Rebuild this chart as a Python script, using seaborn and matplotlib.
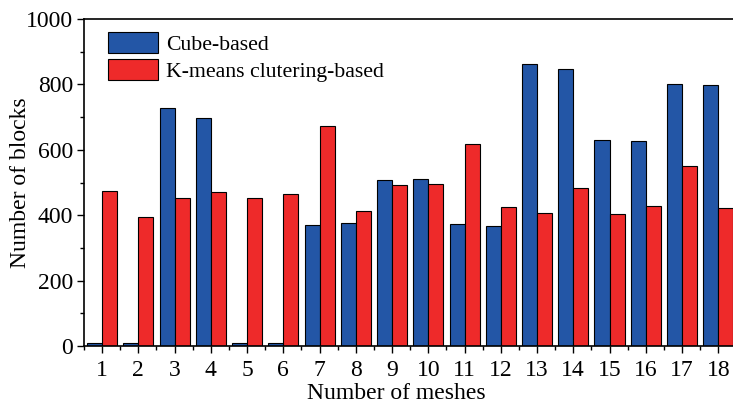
import numpy as np
import pandas as pd
import matplotlib
matplotlib.use("Agg")
import matplotlib.pyplot as plt
import seaborn as sns
from matplotlib.ticker import MultipleLocator, FixedLocator

meshes = [str(i) for i in range(1, 19)]
cube_based = [8, 10, 729, 697, 8, 8, 371, 376, 507, 512, 373, 366, 862, 846, 630, 628, 802, 798]
kmeans_based = [475, 396, 454, 472, 454, 466, 672, 412, 491, 494, 617, 424, 406, 483, 403, 427, 552, 421]
series_names = ["Cube-based", "K-means clutering-based"]
palette = ["#2356A6", "#EE2A2A"]

df = pd.DataFrame({
    "mesh": meshes * 2,
    "blocks": cube_based + kmeans_based,
    "method": [series_names[0]] * len(meshes) + [series_names[1]] * len(meshes),
})

sns.set_style("ticks")
plt.rcParams["font.family"] = ["Liberation Serif", "DejaVu Serif"]
plt.rcParams["font.size"] = 17
plt.rcParams["text.color"] = "black"
plt.rcParams["axes.labelcolor"] = "black"
plt.rcParams["xtick.color"] = "black"
plt.rcParams["ytick.color"] = "black"

fig = plt.figure(figsize=(7.33, 4.09), dpi=100)
ax = fig.add_axes([0.1146, 0.154, 0.890, 0.7995])

sns.barplot(data=df, x="mesh", y="blocks", hue="method", order=meshes,
            hue_order=series_names, palette=palette, width=0.83,
            edgecolor="black", linewidth=0.8, saturation=1, ax=ax)

ax.set_xlim(-0.5, 17.5)
ax.set_ylim(0, 1000)
ax.yaxis.set_major_locator(MultipleLocator(200))
ax.yaxis.set_minor_locator(MultipleLocator(100))
ax.xaxis.set_minor_locator(FixedLocator(np.arange(-0.5, 18, 1.0)))
ax.tick_params(axis="both", which="major", direction="out", length=5, width=1,
               labelsize=17, colors="black")
ax.tick_params(axis="both", which="minor", direction="out", length=3, width=1,
               colors="black")
ax.tick_params(axis="x", which="major", pad=5)
ax.tick_params(axis="y", which="major", pad=3)

for side in ["left", "bottom", "top", "right"]:
    ax.spines[side].set_visible(True)
    ax.spines[side].set_color("black")
    ax.spines[side].set_linewidth(1.2)

ax.set_xlabel("Number of meshes", fontsize=17, color="black")
ax.set_ylabel("Number of blocks", fontsize=17, color="black")
ax.xaxis.set_label_coords(0.478, -0.113)
ax.yaxis.set_label_coords(-0.082, 0.5)

ax.legend(loc="upper left", bbox_to_anchor=(0.037, 0.96), frameon=False,
          fontsize=15.7, handlelength=2.3, handleheight=1.1, labelspacing=0.2,
          handletextpad=0.35, borderpad=0, borderaxespad=0)

fig.savefig("out.png", dpi=100)
